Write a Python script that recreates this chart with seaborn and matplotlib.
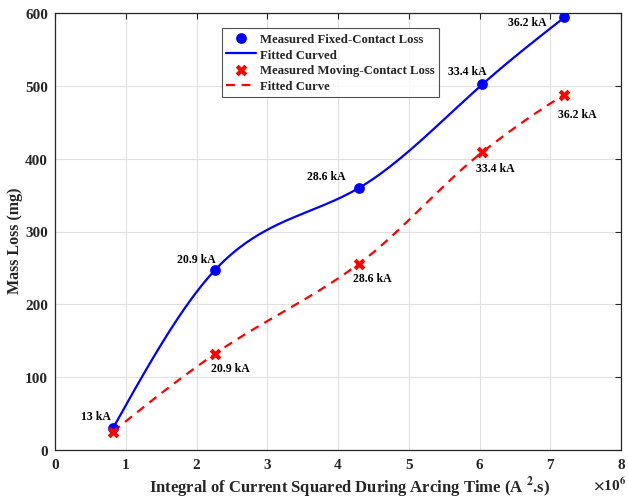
import numpy as np
import pandas as pd
import matplotlib
matplotlib.use("Agg")
import matplotlib.pyplot as plt
import seaborn as sns

# Data (x in units of 1e6 A^2.s)
x_fixed = [0.82, 2.26, 4.30, 6.04, 7.20]
y_fixed = [30, 247, 360, 502, 594]
x_moving = [0.82, 2.26, 4.30, 6.04, 7.20]
y_moving = [25, 132, 256, 409, 488]
labels_fixed = ["13 kA", "20.9 kA", "28.6 kA", "33.4 kA", "36.2 kA"]
labels_moving = ["13 kA", "20.9 kA", "28.6 kA", "33.4 kA", "36.2 kA"]


def natural_spline(x, y, n=300):
    x = np.asarray(x, float); y = np.asarray(y, float)
    k = len(x); h = np.diff(x)
    A = np.zeros((k, k)); b = np.zeros(k)
    A[0, 0] = 1; A[-1, -1] = 1
    for i in range(1, k - 1):
        A[i, i - 1] = h[i - 1]; A[i, i] = 2 * (h[i - 1] + h[i]); A[i, i + 1] = h[i]
        b[i] = 3 * ((y[i + 1] - y[i]) / h[i] - (y[i] - y[i - 1]) / h[i - 1])
    c = np.linalg.solve(A, b)
    xs = np.linspace(x[0], x[-1], n); ys = np.empty_like(xs)
    for j, xv in enumerate(xs):
        i = min(np.searchsorted(x, xv, side="right") - 1, k - 2)
        d = xv - x[i]
        bi = (y[i + 1] - y[i]) / h[i] - h[i] * (2 * c[i] + c[i + 1]) / 3
        di = (c[i + 1] - c[i]) / (3 * h[i])
        ys[j] = y[i] + bi * d + c[i] * d ** 2 + di * d ** 3
    return xs, ys


def pchip(x, y, n=300):
    x = np.asarray(x, float); y = np.asarray(y, float)
    k = len(x); h = np.diff(x); dl = np.diff(y) / h
    d = np.zeros(k)
    for i in range(1, k - 1):
        if dl[i - 1] * dl[i] > 0:
            w1 = 2 * h[i] + h[i - 1]; w2 = h[i] + 2 * h[i - 1]
            d[i] = (w1 + w2) / (w1 / dl[i - 1] + w2 / dl[i])
    d[0] = ((2 * h[0] + h[1]) * dl[0] - h[0] * dl[1]) / (h[0] + h[1])
    d[-1] = ((2 * h[-1] + h[-2]) * dl[-1] - h[-1] * dl[-2]) / (h[-1] + h[-2])
    xs = np.linspace(x[0], x[-1], n); ys = np.empty_like(xs)
    for j, xv in enumerate(xs):
        i = min(np.searchsorted(x, xv, side="right") - 1, k - 2)
        t = (xv - x[i]) / h[i]
        h00 = 2 * t**3 - 3 * t**2 + 1; h10 = t**3 - 2 * t**2 + t
        h01 = -2 * t**3 + 3 * t**2; h11 = t**3 - t**2
        ys[j] = h00 * y[i] + h10 * h[i] * d[i] + h01 * y[i + 1] + h11 * h[i] * d[i + 1]
    return xs, ys


sns.set_style("whitegrid")
plt.rcParams["font.family"] = ["Liberation Serif", "DejaVu Serif"]
plt.rcParams["font.weight"] = "bold"
plt.rcParams["mathtext.fontset"] = "stix"

fig = plt.figure(figsize=(6.28, 5.02), dpi=100)
ax = fig.add_axes([55 / 628, 51 / 502, 566 / 628, 437 / 502])

xf, yf = natural_spline(x_fixed, y_fixed)
xm, ym = pchip(x_moving, y_moving)
df_f = pd.DataFrame({"x": x_fixed, "y": y_fixed})
df_m = pd.DataFrame({"x": x_moving, "y": y_moving})
df_fc = pd.DataFrame({"x": xf, "y": yf})
df_mc = pd.DataFrame({"x": xm, "y": ym})

sns.scatterplot(data=df_f, x="x", y="y", ax=ax, marker="o", s=60, color="#0000ff",
                edgecolor="#0000ff", linewidth=0, zorder=4, label="Measured Fixed-Contact Loss")
sns.lineplot(data=df_fc, x="x", y="y", ax=ax, color="#0000ff", lw=1.6, zorder=3,
             label="Fitted Curved")
sns.scatterplot(data=df_m, x="x", y="y", ax=ax, marker="X", s=70, color="#ff0000",
                edgecolor="#ff0000", linewidth=0, zorder=4, label="Measured Moving-Contact Loss")
sns.lineplot(data=df_mc, x="x", y="y", ax=ax, color="#ff0000", lw=1.6, zorder=3,
             label="Fitted Curve", dashes=False)
ax.lines[-1].set_linestyle((0, (4, 3)))

offs_f = [(-17, 12), (-19, 11), (-33, 12), (-15, 13), (-37, -5)]
for xv, yv, t, o in zip(x_fixed, y_fixed, labels_fixed, offs_f):
    ax.annotate(t, (xv, yv), xytext=o, textcoords="offset pixels", ha="center", va="center",
                fontsize=8.5, fontweight="bold", color="black")
offs_m = [(15, -14), (13, -14), (13, -16), (13, -19)]
for xv, yv, t, o in zip(x_moving[1:], y_moving[1:], labels_moving[1:], offs_m):
    ax.annotate(t, (xv, yv), xytext=o, textcoords="offset pixels", ha="center", va="center",
                fontsize=8.5, fontweight="bold", color="black")

ax.set_xlim(0, 8)
ax.set_ylim(0, 600)
ax.set_xticks(range(0, 9))
ax.set_yticks(range(0, 601, 100))
ax.grid(True, color="#e0e0e0", lw=0.8)
for s in ax.spines.values():
    s.set_visible(True); s.set_color("#262626"); s.set_linewidth(0.9)
ax.tick_params(direction="in", length=4, width=0.8, top=True, right=True,
               labelsize=11, colors="#262626", labelcolor="#262626")
ax.tick_params(axis="x", pad=6)
ax.tick_params(axis="y", pad=5)
for lab in ax.get_xticklabels() + ax.get_yticklabels():
    lab.set_fontweight("bold")
ax.set_xlabel(r"Integral of Current Squared During Arcing Time (A $^{\mathbf{2}}$.s)",
              fontsize=12, fontweight="bold")
ax.xaxis.set_label_coords(0.52, -0.056)
ax.set_ylabel("Mass Loss (mg)", fontsize=11.5, fontweight="bold")
ax.yaxis.set_label_coords(-0.057, 0.48)
fig.text(626 / 628, 1 - 485 / 502, r"$\times$10$^{6}$", ha="right", va="center",
         fontsize=11, fontweight="bold")

leg = ax.legend(loc="upper left", bbox_to_anchor=(0.295, 0.965), frameon=True, fancybox=False,
                prop={"weight": "bold", "size": 9.2}, handlelength=2.3, borderpad=0.35,
                labelspacing=0.3, handletextpad=0.3, borderaxespad=0)
leg.get_frame().set_edgecolor("#262626")
leg.get_frame().set_linewidth(0.8)

fig.savefig("out.png", dpi=100)
